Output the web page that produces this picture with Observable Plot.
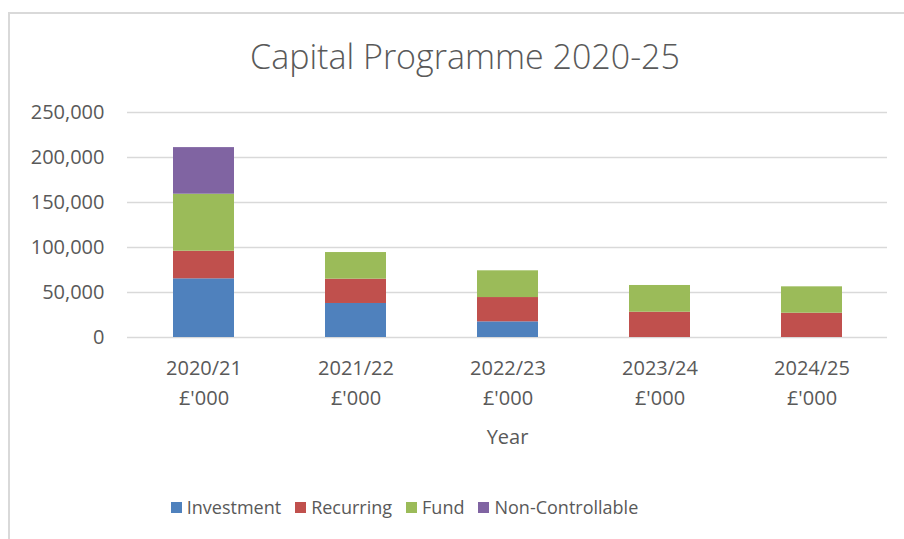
<!DOCTYPE html>
<html>
<head>
<meta charset="utf-8">
<script src="https://cdn.jsdelivr.net/npm/d3@7"></script>
<script src="https://cdn.jsdelivr.net/npm/@observablehq/plot@0.6"></script>
<style>
  html, body { margin: 0; padding: 0; background: #fff; overflow: hidden; }
  #wrap { position: relative; width: 904px; height: 539px; overflow: hidden; background: #fff; font-family: "Open Sans", sans-serif; color: #595959; }
  #frame { position: absolute; left: 8px; top: 12px; width: 1000px; height: 1000px; border: 2px solid #d9d9d9; box-sizing: border-box; }
  #title { position: absolute; left: 0; width: 930px; top: 34px; text-align: center; font-size: 34px; font-weight: 300; line-height: 44px; white-space: nowrap; }
  #chart { position: absolute; left: 0; top: 90px; }
  #legend { position: absolute; left: 0; width: 809px; top: 494px; display: flex; justify-content: center; gap: 14px; font-size: 18px; line-height: 26px; white-space: nowrap; }
  .item { display: flex; align-items: center; }
  .sw { width: 11px; height: 11px; margin-right: 5px; display: inline-block; }
</style>
</head>
<body>
<div id="wrap">
  <div id="frame"></div>
  <div id="title">Capital Programme 2020-25</div>
  <div id="chart"></div>
  <div id="legend"></div>
</div>
<script>
const years = ["2020/21", "2021/22", "2022/23", "2023/24", "2024/25"];
const seriesNames = ["Investment", "Recurring", "Fund", "Non-Controllable"];
const seriesColors = ["#4f81bd", "#c0504d", "#9bbb59", "#8064a2"];
const investment = [65200, 37800, 17400, 0, 0];
const recurring = [30700, 27000, 27000, 28100, 27000];
const fund = [63300, 29600, 29700, 29700, 29300];
const nonControllable = [51800, 0, 0, 0, 0];
const yTicks = [0, 50000, 100000, 150000, 200000, 250000];
const unitLabel = "£'000";
const xTitle = "Year";

const seriesValues = [investment, recurring, fund, nonControllable];
const rows = [];
seriesNames.forEach((s, si) => {
  years.forEach((y, yi) => {
    rows.push({year: y, series: s, value: seriesValues[si][yi]});
  });
});

const chart = Plot.plot({
  width: 904,
  height: 380,
  marginLeft: 127,
  marginRight: 17,
  marginTop: 22,
  marginBottom: 133,
  style: {fontFamily: "Open Sans, sans-serif", fontSize: "20px", color: "#595959", background: "transparent"},
  x: {domain: years, paddingInner: 0.6, paddingOuter: 0.3},
  y: {domain: [0, 250000]},
  color: {domain: seriesNames, range: seriesColors},
  marks: [
    Plot.ruleY(yTicks, {stroke: "#d9d9d9", strokeWidth: 1.5}),
    Plot.barY(rows, {x: "year", y: "value", fill: "series", order: seriesNames}),
    Plot.axisY({ticks: yTicks, tickSize: 0, tickPadding: 23, tickFormat: d3.format(","), label: null, fontSize: 20}),
    Plot.axisX({tickSize: 0, tickPadding: 16, tickFormat: d => d + "\n" + unitLabel, label: null, fontSize: 20, lineHeight: 1.5}),
    Plot.text([xTitle], {text: d => d, frameAnchor: "bottom", dy: 92, lineAnchor: "top", fontSize: 20, fill: "#595959"})
  ]
});
document.getElementById("chart").appendChild(chart);

const legend = document.getElementById("legend");
seriesNames.forEach((s, i) => {
  const item = document.createElement("div");
  item.className = "item";
  const sw = document.createElement("span");
  sw.className = "sw";
  sw.style.background = seriesColors[i];
  const t = document.createElement("span");
  t.textContent = s;
  item.appendChild(sw);
  item.appendChild(t);
  legend.appendChild(item);
});
</script>
</body>
</html>
